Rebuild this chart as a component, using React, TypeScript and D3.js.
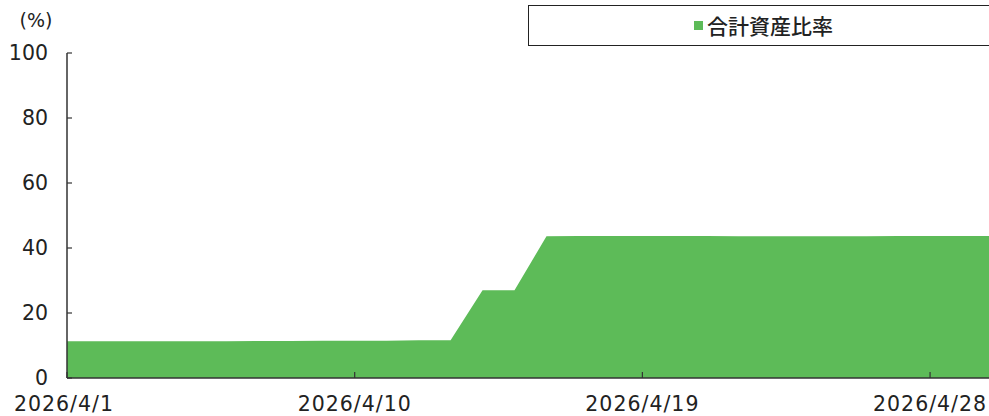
import * as d3 from "d3"
import React from "react"

// daily values (%) from 2026/4/1
const startDate = new Date(2026, 3, 1)
const values = [
  11.3, 11.3, 11.3, 11.3, 11.3, 11.3, 11.4, 11.4, 11.5, 11.5, 11.5, 11.6, 11.6,
  27.0, 27.0,
  43.6, 43.7, 43.7, 43.7, 43.7, 43.7, 43.6, 43.6, 43.6, 43.6, 43.6, 43.7, 43.7, 43.7, 43.7,
]
const yTicks = [0, 20, 40, 60, 80, 100]
const xTickDays = [0, 9, 18, 27]
const seriesName = "合計資産比率"

const W = 989
const H = 416
const font = "'DejaVu Sans', sans-serif"
const cjkFont = "'Noto Sans CJK JP', sans-serif"
const green = "#5dbb58"

const App = () => {
  const data = values.map((v, i) => ({ date: d3.timeDay.offset(startDate, i), v }))

  const x = d3.scaleTime()
    .domain([startDate, d3.timeDay.offset(startDate, 29)])
    .range([67, 994])
  const y = d3.scaleLinear().domain([0, 100]).range([378, 53])

  const area = d3.area<{ date: Date; v: number }>()
    .x(d => x(d.date))
    .y0(y(0))
    .y1(d => y(d.v))

  const fmt = d3.timeFormat("%Y/%-m/%-d")

  return (
    <svg width={W} height={H} style={{ position: "absolute", left: 0, top: 0, fontFamily: font }}>
      <rect width={W} height={H} fill="#fff" />
      <path d={area(data) ?? ""} fill={green} />

      {/* y axis */}
      <line x1={67} x2={67} y1={y(100)} y2={y(0)} stroke="#333" strokeWidth={1.5} />
      {yTicks.map(t => (
        <g key={t}>
          <line x1={67} x2={72} y1={y(t)} y2={y(t)} stroke="#333" strokeWidth={1.2} />
          <text x={48} y={y(t)} dy="0.36em" textAnchor="end" fontSize={20.5} fill="#222">{t}</text>
        </g>
      ))}
      <text x={36} y={20} dy="0.36em" textAnchor="middle" fontSize={19} fill="#222">(%)</text>

      {/* x axis */}
      <line x1={67} x2={W} y1={y(0)} y2={y(0)} stroke="#333" strokeWidth={1.5} />
      {xTickDays.map(d => {
        const dt = d3.timeDay.offset(startDate, d)
        return (
          <g key={d}>
            <line x1={x(dt)} x2={x(dt)} y1={y(0)} y2={y(0) - 6} stroke="#333" strokeWidth={1.2} />
            <text x={x(dt) - (d === 0 ? 3 : 0)} y={404} dy="0.36em" textAnchor="middle" fontSize={20.5}
              letterSpacing={1} fill="#222">{fmt(dt)}</text>
          </g>
        )
      })}

      {/* legend */}
      <rect x={528.5} y={5.5} width={470} height={40} fill="#fff" stroke="#222" strokeWidth={1} />
      <rect x={694} y={21} width={9} height={9} fill={green} />
      <text x={707} y={26} dy="0.36em" fontSize={21} fontFamily={cjkFont} fontWeight={500} fill="#222">{seriesName}</text>
    </svg>
  )
}

export default App
